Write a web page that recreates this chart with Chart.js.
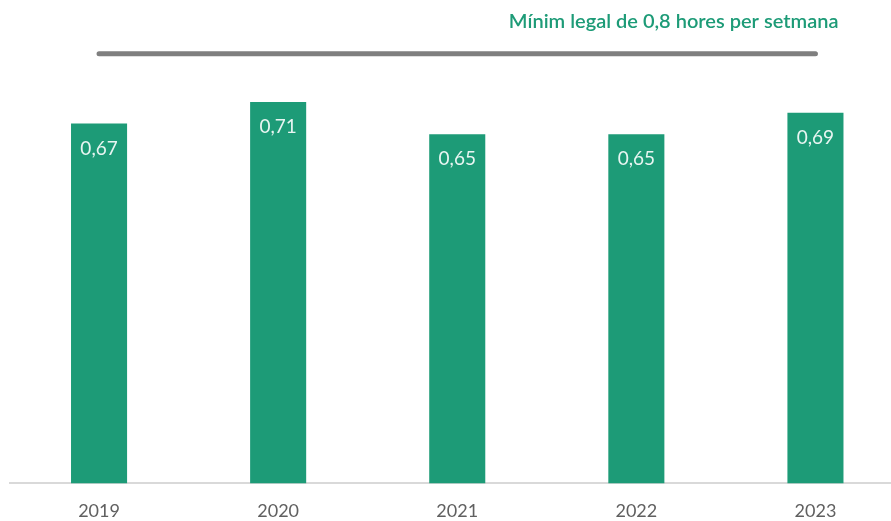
<!DOCTYPE html>
<html>
<head>
<meta charset="utf-8">
<script src="https://cdn.jsdelivr.net/npm/chart.js@4"></script>
<style>
  html, body { margin: 0; padding: 0; background: #fff; overflow: hidden; }
  #wrap { position: relative; width: 905px; height: 531px; }
</style>
</head>
<body>
<div id="wrap"><canvas id="hoursChart"></canvas></div>
<script>
// Chart data
const years = ['2019', '2020', '2021', '2022', '2023'];
const hours = [0.67, 0.71, 0.65, 0.65, 0.69];
const legalMin = [0.8, 0.8, 0.8, 0.8, 0.8];
const legalLabel = 'Mínim legal de 0,8 hores per setmana';

const green = '#1d9b77';
const fmt = v => v.toFixed(2).replace('.', ',');

// Draws the value inside each bar and the caption above the reference line
const labelsPlugin = {
    id: 'labelsPlugin',
    afterDatasetsDraw(chart) {
        const ctx = chart.ctx;
        const meta = chart.getDatasetMeta(1);
        ctx.save();
        ctx.font = '19px Lato, "Open Sans", sans-serif';
        ctx.fillStyle = 'rgba(255,255,255,0.9)';
        ctx.textAlign = 'center';
        ctx.textBaseline = 'middle';
        meta.data.forEach((bar, i) => {
            ctx.fillText(fmt(hours[i]), bar.x, bar.y + 25);
        });
        const lineMeta = chart.getDatasetMeta(0);
        const last = lineMeta.data[lineMeta.data.length - 1];
        ctx.font = '600 20px Lato, "Open Sans", sans-serif';
        ctx.fillStyle = green;
        ctx.textAlign = 'right';
        ctx.fillText(legalLabel, last.x + 23, last.y - 32);
        ctx.restore();
    }
};

const ctx = document.getElementById('hoursChart').getContext('2d');
new Chart(ctx, {
    data: {
        labels: years,
        datasets: [{
            type: 'line',
            label: legalLabel,
            data: legalMin,
            borderColor: '#7f7f7f',
            borderWidth: 5,
            borderCapStyle: 'round',
            pointRadius: 0,
            fill: false
        }, {
            type: 'bar',
            label: 'Hores',
            data: hours,
            backgroundColor: green,
            categoryPercentage: 1,
            barPercentage: 0.313
        }]
    },
    options: {
        responsive: true,
        maintainAspectRatio: false,
        animation: false,
        layout: { padding: { left: 9.5, right: 0, top: 0, bottom: 0 } },
        scales: {
            x: {
                grid: { display: false },
                border: { display: true, color: '#d9d9d9', width: 2 },
                ticks: {
                    color: '#606060',
                    padding: 9,
                    font: { family: 'Lato, "Open Sans", sans-serif', size: 18 }
                }
            },
            y: {
                display: false,
                min: 0,
                max: 0.9
            }
        },
        plugins: {
            legend: { display: false },
            tooltip: { enabled: false }
        }
    },
    plugins: [labelsPlugin]
});
</script>
</body>
</html>
